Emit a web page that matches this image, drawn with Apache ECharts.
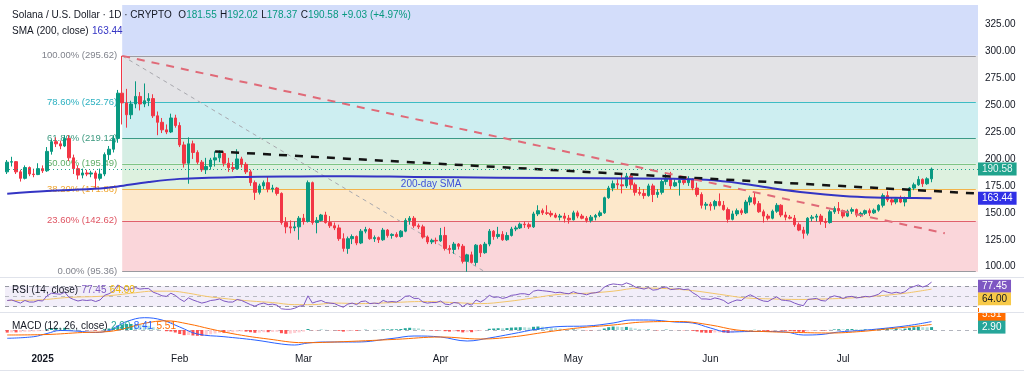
<!DOCTYPE html>
<html><head><meta charset="utf-8">
<script src="https://cdn.jsdelivr.net/npm/echarts@6/dist/echarts.min.js"></script>
<style>html,body{margin:0;padding:0;background:#fff}#c{width:1024px;height:380px}</style>
</head><body><div id="c"></div>
<script>
// ---------- DATA ----------
const firstDay = Date.UTC(2024, 11, 24);
const totalDays = 220; // Dec 24, 2024 .. Jul 31, 2025 (right margin included)
const dates = [];
for (let i = 0; i < totalDays; i++) dates.push(new Date(firstDay + i * 86400000).toISOString().slice(0, 10));

// daily candles [open, high, low, close]
const ohlc = [
 // Dec 24-31
 [188,199,186,197],[197,202,193,197.5],[197.5,198,186,188],[188,190,179,182],[182,194,181,192],[192,193,184,186],[186,191,183,185.5],[185.5,196,185,191],
 // Jan
 [191,194,187,189],[189,211,188,207],[207,218,204,216],[216,220,211,214],[214,217,209,212],[212,222,211,219],[219,222,198,201],[201,204,186,191],[191,194,181,185],[185,191,182,187],[187,190,184,186],[186,189,183,187],[187,189,172,182],[182,191,180,186],[186,206,184,204],[204,212,199,209],[209,222,206,219],[219,264,215,261],[261,295.62,232,252],[252,265,229,241],[241,254,237,251],[251,272,247,258],[258,262,245,251],[251,270,248,254],[254,261,249,256],[256,260,238,240],[240,244,222,234],[234,238,224,227],[227,232,223,225],[225,242,224,238],[238,241,229,231],
 // Feb
 [231,234,211,213],[213,216,192,196],[196,220,177,214],[214,217,200,206],[206,208,195,197],[197,199,188,190],[190,201,186,193],[193,201,190,199],[199,207,193,201],[201,208,197,205],[205,207,193,196],[196,201,188,192],[192,197,188,191],[191,209,190,200],[200,202,192,195],[195,197,186,188],[188,190,175,178],[178,180,162,169],[169,177,167,175],[175,180,172,178],[178,184,169,172],[172,176,169,173],[173,174,166,168],[168,169,139,141],[141,146,131,137],[137,143,131,136],[136,142,133,137],[137,147,125,145],
 // Mar
 [145,149,139,142],[142,180,141,178],[178,179,139,141],[141,146,131,143],[143,149,142,148],[148,151,140,141],[141,147,136,138],[138,141,134,136],[136,139,124,126],[126,131,114,117],[117,128,112,126],[126,130,121,128],[128,129,120,122],[122,135,121,133],[133,137,131,134.5],[134.5,136,125,126],[126,129,123,127],[127,128,122,125],[125,136,124,134],[134,135,127,129],[129,131,126,130],[130,132,127,128],[128,134,127,133],[133,145,132,143],[143,147,139,145],[145,147,136,138],[138,140,135,137],[137,139,126,127.5],[127.5,129,121,123],[123,126,121,124.5],[124.5,127,121,124],
 // Apr
 [124,136,123,129],[129,137,115,117],[117,120,112,116],[116,123,112,121],[121,122,116,119],[119,121,103,105],[105,112,95.36,111],[111,114,103,104],[104,121,101,120],[120,121,109,113],[113,123,112,121],[121,135,119,133],[133,134,125,128],[128,137,126,130],[130,133,124,125],[125,132,124,129],[129,137,128,135],[135,138,133,136],[136,141,135,139.5],[139.5,142,136,139],[139,141,135,137],[137,151,136,149],[149,157,147,152],[152,154,148,150],[150,157,148,149.5],[149.5,152,146,148],[148,150,145,146],[146,149,143,147],[147,150,141,145],[145,148,140,143.5],
 // May
 [143.5,152,143,150],[150,152,145,147],[147,149,144,145],[145,147,141,143],[143,148,141,146],[146,149,143,147.5],[147.5,152,146,150],[150,165,149,164],[164,175,163,173],[173,180,170,177],[177,181,172,176],[176,186,168,175],[175,187,173,184],[184,186,172,176],[176,178,166,169],[169,174,166,168],[168,172,163,166],[166,177,165,175],[175,177,160,167],[167,172,164,169],[169,181,167,179],[179,187,176,182],[182,188,172,175],[175,181,174,178],[178,181,166,180],[180,183,176,178],[178,184,175,181],[181,182,171,173],[173,178,165,167],[167,169,154,157],[157,160,153,158],
 // Jun
 [158,160,152,156.5],[156.5,162,153,160.5],[160.5,168,156,157],[157,161,152,153],[153,155,141,144],[144,152,143,149],[149,154,147,152],[152,154,148,150],[150,162,149,160],[160,166,157,164],[164,169,157,158.5],[158.5,161,150,151],[151,153,141,147],[147,149,143,145],[145,153,144,151.5],[151.5,159,150,157],[157,158,146,148],[148,151,143,146],[146,148,144,145],[145,148,137,139],[139,141,133,134],[134,137,126,131],[131,146,129,145],[145,148,142,146],[146,149,142,147],[147,149,139,142],[142,145,136,141],[141,153,140,151],[151,156,149,154],[154,160,149,152],
 // Jul 1-21
 [152,153,145,147],[147,153,146,151.5],[151.5,155,149,153],[153,154,146,148],[148,151,146,149.5],[149.5,153,148,152],[152,154,147,150],[150,154,149,152.5],[152.5,158,151,157],[157,168,155,166],[166,170,160,162],[162,164,157,160],[160,164,158,163],[163,166,159,160],[160,165,156,164],[164,174,163,173],[173,178,171,176],[176,184,175,181],[181,182,174,177],[177,183,176,181.55],[181.55,192.02,178.37,190.58]
];

const sma200 = [['2024-12-24',167.8],['2025-01-02',170.2],['2025-01-14',172.5],['2025-01-18',174.5],['2025-01-25',178.6],['2025-02-01',181.5],['2025-02-14',183.2],['2025-02-28',183.8],['2025-03-11',184],['2025-03-26',183.3],['2025-04-14',182.6],['2025-05-07',182],['2025-05-23',181.6],['2025-05-31',180.6],['2025-06-08',177.3],['2025-06-15',172.8],['2025-06-23',168.6],['2025-07-01',165.7],['2025-07-08',164.3],['2025-07-15',163.8],['2025-07-21',163.44]];

const fibStart = '2025-01-19';
const fibLevels = ['100.00%','78.60%','61.80%','50.00%','38.20%','23.60%','0.00%'];
const fibPrices = [295.62, 252.76, 219.12, 195.49, 171.86, 142.62, 95.36];
const fibDiagonal = [['2025-01-19',295.62],['2025-04-11',95.36]];
const redTrend = [['2025-01-19',295.62],['2025-07-24',131]];
const blackTrend = [['2025-02-09',207],['2025-07-31',168]];
const priceTicks = [100,125,150,175,200,225,250,275,300,325];

// RSI(14) daily
const rsi = [
 42,43,40,37,42,39,39,42,
 41,51,56,55,54,58,48,44,41,43,42,43,40,43,52,55,60,72,67,62,65,67,64,65,65,58,55,51,50,56,52,
 45,40,47,43,40,37,39,42,43,45,41,39,39,44,42,38,34,31,35,37,34,35,33,26,25,25,27,31,
 32,51,37,40,42,38,37,36,32,29,35,37,34,40,41,36,37,36,42,39,40,39,43,50,51,46,46,39,37,38,38,
 41,35,34,38,37,30,36,33,43,39,44,52,48,49,46,48,52,53,55,55,53,60,62,61,60,59,57,58,56,55,
 59,56,55,53,56,57,59,68,72,74,73,72,76,73,68,66,64,67,62,63,67,68,63,64,65,63,64,57,52,45,45,
 44,47,45,42,36,40,43,42,49,53,49,44,41,40,45,49,43,42,41,37,34,32,44,45,46,42,41,48,51,49,
 46,49,50,47,48,50,49,51,54,61,58,56,58,56,59,66,69,72,68,71,77.45
];
const rsiMa = [['2024-12-24',42],['2024-12-31',43],['2025-01-07',48],['2025-01-14',50],['2025-01-18',53],['2025-01-22',57],['2025-01-26',60],['2025-01-30',60],['2025-02-03',56],['2025-02-07',50],['2025-02-12',45],['2025-02-17',41],['2025-02-22',38],['2025-02-27',34],['2025-03-03',34],['2025-03-08',37],['2025-03-14',36],['2025-03-21',38],['2025-03-28',40],['2025-04-04',38],['2025-04-10',36],['2025-04-16',40],['2025-04-22',47],['2025-04-28',54],['2025-05-04',56],['2025-05-10',60],['2025-05-16',66],['2025-05-22',65],['2025-05-28',61],['2025-06-03',54],['2025-06-09',47],['2025-06-15',45],['2025-06-21',44],['2025-06-27',45],['2025-07-03',47],['2025-07-09',51],['2025-07-15',56],['2025-07-21',64]];

const macdLine = [['2024-12-24',-8.3],['2024-12-30',-6.7],['2025-01-02',-3.5],['2025-01-05',-0.5],['2025-01-09',-1.2],['2025-01-13',-2.5],['2025-01-16',-0.5],['2025-01-18',4],['2025-01-20',8.5],['2025-01-24',12.3],['2025-01-28',10],['2025-02-01',3],['2025-02-05',-4],['2025-02-11',-6.7],['2025-02-18',-10],['2025-02-24',-14],['2025-02-27',-15],['2025-03-02',-13],['2025-03-06',-12],['2025-03-13',-12],['2025-03-21',-8.5],['2025-03-26',-6],['2025-04-01',-7],['2025-04-07',-11],['2025-04-12',-8],['2025-04-17',-4],['2025-04-23',1],['2025-04-28',3.5],['2025-05-04',4],['2025-05-10',7],['2025-05-14',10],['2025-05-18',10],['2025-05-24',8],['2025-05-28',7],['2025-06-01',2],['2025-06-05',-2],['2025-06-10',-1.5],['2025-06-14',-1.5],['2025-06-18',-2],['2025-06-22',-5],['2025-06-26',-4.5],['2025-06-30',-2],['2025-07-05',-0.5],['2025-07-10',1.5],['2025-07-15',4],['2025-07-18',6],['2025-07-21',8.41]];
const signalLine = [['2024-12-24',-5],['2025-01-02',-4.5],['2025-01-10',-2.5],['2025-01-16',-1.5],['2025-01-20',2],['2025-01-24',6.7],['2025-01-29',9.2],['2025-02-03',6],['2025-02-08',1],['2025-02-14',-4.5],['2025-02-21',-9],['2025-03-01',-12.7],['2025-03-08',-12],['2025-03-22',-9.3],['2025-04-01',-7],['2025-04-10',-9],['2025-04-17',-7],['2025-04-25',-2],['2025-05-02',2],['2025-05-10',5],['2025-05-17',8],['2025-05-25',8.5],['2025-06-01',5],['2025-06-07',0],['2025-06-14',-1.7],['2025-06-21',-2.5],['2025-06-28',-3],['2025-07-05',-1.5],['2025-07-12',1.5],['2025-07-18',4],['2025-07-21',5.51]];
const hist = [
 -2.6,-2.4,-2.4,-2.2,-1.8,-1.7,-1.5,-1.2,
 -0.5,0.8,1.8,2.2,2.0,2.2,1.2,0.5,0.2,0.0,-0.2,-0.3,-0.6,-0.5,0.8,1.5,2.5,4.5,5.5,6.0,6.0,5.8,5.2,4.8,4.2,2.8,1.2,0.0,-1.2,-1.5,-2.5,
 -4.0,-5.2,-5.0,-5.5,-5.8,-5.8,-5.0,-4.2,-3.5,-2.8,-2.8,-2.6,-2.3,-1.6,-1.4,-1.6,-2.2,-2.8,-2.6,-2.2,-2.2,-1.9,-1.8,-3.2,-3.8,-3.6,-3.0,-2.4,
 -1.6,1.0,-0.2,-0.2,0.3,0.2,-0.1,-0.2,-0.8,-1.6,-1.2,-0.8,-0.8,-0.2,0.3,0.0,0.1,0.1,0.6,0.6,0.7,0.7,1.0,1.8,2.2,1.9,1.6,0.7,-0.2,-0.5,-0.7,
 -0.4,-1.2,-1.6,-1.4,-1.4,-2.4,-2.2,-2.2,-1.2,-0.8,0.0,1.2,1.5,1.8,1.7,1.9,2.4,2.6,2.8,2.7,2.4,3.2,3.5,3.3,2.9,2.4,1.8,1.4,1.0,0.5,
 0.6,0.4,0.1,-0.3,-0.3,-0.2,0.1,1.5,2.8,3.5,3.4,3.0,3.1,2.4,1.5,0.9,0.4,0.5,-0.1,-0.4,0.0,0.4,0.0,-0.1,-0.1,-0.3,-0.2,-0.8,-1.5,-2.5,-2.8,
 -2.9,-2.5,-2.4,-2.5,-3.0,-2.6,-2.0,-1.6,-0.8,0.0,0.2,-0.2,-0.8,-1.1,-0.8,-0.3,-0.6,-0.8,-0.9,-1.3,-1.8,-2.2,-1.4,-0.9,-0.5,-0.5,-0.5,0.1,0.6,0.8,
 0.6,0.8,1.0,0.7,0.6,0.7,0.5,0.6,0.9,1.8,1.8,1.5,1.5,1.2,1.4,2.2,2.8,3.2,2.8,2.7,2.9
];

// ---------- DERIVED DISPLAY VALUES ----------
const last = ohlc[ohlc.length - 1];
const prevClose = ohlc[ohlc.length - 2][3];
const chg = last[3] - prevClose;
const chgPct = chg / prevClose * 100;
const lastSma = sma200[sma200.length - 1][1];
const lastRsi = rsi[rsi.length - 1];
const lastRsiMa = rsiMa[rsiMa.length - 1][1];
const lastMacd = macdLine[macdLine.length - 1][1];
const lastSignal = signalLine[signalLine.length - 1][1];
const lastHist = hist[hist.length - 1];
const lastDate = dates[dates.length - 1];

const FONT = 'Liberation Sans, Arial, sans-serif';
const UP = '#089981', DOWN = '#f23645';
const monthNames = ['Jan','Feb','Mar','Apr','May','Jun','Jul','Aug','Sep','Oct','Nov','Dec'];

const fibBandColors = ['#e3e3e6','#cdeef1','#d5eee4','#ddf1df','#fde8cb','#fad6da'];
const fibLineColors = ['#9a9aa0','#3dbcc4','#3b9a86','#7fc486','#f2b34a','#e0606c','#9a9aa0'];
const fibTextColors = ['#80838c','#2bb0c0','#3d9a80','#5fae68','#f0a630','#df5563','#80838c'];

const bandData = [[{xAxis: fibStart, yAxis: 342.8, itemStyle: {color: '#d3ddfa'}}, {yAxis: fibPrices[0]}]];
for (let i = 0; i < fibPrices.length - 1; i++) {
  bandData.push([{xAxis: fibStart, yAxis: fibPrices[i], itemStyle: {color: fibBandColors[i]}}, {yAxis: fibPrices[i + 1]}]);
}

const fibLineData = fibPrices.map((p, i) => [
  {coord: [fibStart, p], lineStyle: {color: fibLineColors[i], width: 1, type: 'solid'},
   label: {show: true, position: 'start', distance: 5, formatter: fibLevels[i] + ' (' + p.toFixed(2) + ')',
           color: fibTextColors[i], fontSize: 9.5, fontFamily: FONT}},
  {coord: [lastDate, p]}
]);

const histData = hist.map((v, i) => {
  const prev = i > 0 ? hist[i - 1] : v;
  let c;
  if (v >= 0) c = v >= prev ? '#26a69a' : '#b2dfdb';
  else c = v <= prev ? '#ff5252' : '#ffcdd2';
  return {value: v, itemStyle: {color: c}};
});

function boxLine(value, bg, fg, offsetY) {
  return {yAxis: value, lineStyle: {color: 'rgba(0,0,0,0)', width: 1, type: 'solid'},
    label: {show: true, position: 'end', distance: 0, formatter: value.toFixed(2), backgroundColor: bg, color: fg,
            padding: [2, 4, 1, 4], fontSize: 10, fontFamily: FONT, offset: [0, offsetY || 0]}};
}

const chart = echarts.init(document.getElementById('c'), null, {renderer: 'canvas'});
const xAxes = [0, 1, 2].map(g => ({
  type: 'category', gridIndex: g, data: dates, boundaryGap: true,
  axisLine: {show: false}, axisTick: {show: false}, splitLine: {show: false},
  axisPointer: {show: false},
  axisLabel: g === 2 ? {
    show: true, margin: 6, color: '#131722', fontSize: 10, fontFamily: FONT,
    interval: (idx, v) => v.slice(8) === '01',
    formatter: v => { const m = +v.slice(5, 7); return m === 1 ? '{y|' + v.slice(0, 4) + '}' : monthNames[m - 1]; },
    rich: {y: {fontWeight: 'bold', fontSize: 10, color: '#131722', fontFamily: FONT}}
  } : {show: false}
}));

const option = {
  animation: false,
  backgroundColor: '#ffffff',
  textStyle: {fontFamily: FONT},
  grid: [
    {left: 5, right: 46, top: 5, height: 271},
    {left: 5, right: 46, top: 278, height: 34},
    {left: 5, right: 46, top: 313, height: 35}
  ],
  xAxis: xAxes,
  yAxis: [
    {type: 'value', gridIndex: 0, position: 'right', min: 91.4, max: 342.8, scale: true,
     splitLine: {show: false}, axisLine: {show: false}, axisTick: {show: false},
     axisLabel: {customValues: priceTicks, formatter: v => v.toFixed(2), color: '#131722', fontSize: 10, margin: 7, fontFamily: FONT}},
    {type: 'value', gridIndex: 1, position: 'right', min: 19.76, max: 85.46,
     splitLine: {show: false}, axisLine: {show: false}, axisTick: {show: false}, axisLabel: {show: false}},
    {type: 'value', gridIndex: 2, position: 'right', min: -18, max: 17,
     splitLine: {show: false}, axisLine: {show: false}, axisTick: {show: false}, axisLabel: {show: false}}
  ],
  series: [
    // Fibonacci retracement: bands, level lines, diagonal
    {type: 'line', name: 'fib', xAxisIndex: 0, yAxisIndex: 0, z: 1, data: fibDiagonal, symbol: 'none', silent: true,
     lineStyle: {color: '#a8a8ae', width: 1, type: [4, 4]},
     markArea: {silent: true, z: 0, data: bandData},
     markLine: {silent: true, z: 1, symbol: ['none', 'none'], data: fibLineData}},
    // candles
    {type: 'candlestick', xAxisIndex: 0, yAxisIndex: 0, z: 3, barWidth: 3, silent: true,
     data: ohlc.map(r => [r[0], r[3], r[2], r[1]]),
     itemStyle: {color: UP, color0: DOWN, borderColor: UP, borderColor0: DOWN, borderWidth: 1}},
    // SMA 200
    {type: 'line', name: 'sma', xAxisIndex: 0, yAxisIndex: 0, z: 4, data: sma200, smooth: 0.35, symbol: 'none', silent: true,
     lineStyle: {color: '#3434c4', width: 2},
     markPoint: {silent: true, symbol: 'circle', symbolSize: 0, data: [{coord: ['2025-03-23', 176.9],
       label: {show: true, formatter: '200-day SMA', position: [0, 0], align: 'left', verticalAlign: 'middle', color: '#3f51d9', fontSize: 10, fontFamily: FONT}}]}},
    // trend lines
    {type: 'line', xAxisIndex: 0, yAxisIndex: 0, z: 6, data: redTrend, symbol: 'none', silent: true,
     lineStyle: {color: '#e06a78', width: 2, type: [8, 7]}},
    {type: 'line', xAxisIndex: 0, yAxisIndex: 0, z: 6, data: blackTrend, symbol: 'none', silent: true,
     lineStyle: {color: '#131313', width: 2.5, type: [8, 8]}},
    // price line + boxes
    {type: 'line', xAxisIndex: 0, yAxisIndex: 0, z: 7, data: [], clip: false, silent: true,
     markLine: {silent: true, z: 7, symbol: ['none', 'none'], data: [
       Object.assign(boxLine(last[3], UP, '#ffffff'), {lineStyle: {color: UP, type: [1, 3], width: 1, opacity: 0.9}}),
       boxLine(lastSma, '#3030e6', '#ffffff')
     ]}},
    // RSI
    {type: 'line', xAxisIndex: 1, yAxisIndex: 1, z: 3, data: rsi, symbol: 'none', silent: true, clip: false,
     lineStyle: {color: '#7e57c2', width: 1},
     markArea: {silent: true, z: 0, data: [[{yAxis: 70, itemStyle: {color: 'rgba(126,87,194,0.1)'}}, {yAxis: 30}]]},
     markLine: {silent: true, z: 1, symbol: ['none', 'none'], label: {show: false},
       lineStyle: {color: '#9598a1', type: [4, 4], width: 1},
       data: [{yAxis: 70}, {yAxis: 50, lineStyle: {color: '#b8bac2', type: [4, 4]}}, {yAxis: 30}]}},
    {type: 'line', xAxisIndex: 1, yAxisIndex: 1, z: 2, data: rsiMa, smooth: 0.4, symbol: 'none', silent: true,
     lineStyle: {color: '#f3c66b', width: 1}},
    {type: 'line', xAxisIndex: 1, yAxisIndex: 1, z: 8, data: [], clip: false, silent: true,
     markLine: {silent: true, z: 8, symbol: ['none', 'none'],
       data: [boxLine(lastRsi, '#7e57c2', '#ffffff', 4), boxLine(lastRsiMa, '#f7c948', '#131722', 10)]}},
    // MACD
    {type: 'bar', xAxisIndex: 2, yAxisIndex: 2, z: 2, data: histData, barWidth: 3, silent: true,
     markLine: {silent: true, z: 1, symbol: ['none', 'none'], label: {show: false},
       lineStyle: {color: '#b2b5be', type: [4, 4], width: 1},
       data: [{yAxis: 0}]}},
    {type: 'line', xAxisIndex: 2, yAxisIndex: 2, z: 3, data: macdLine, smooth: 0.4, symbol: 'none', silent: true,
     lineStyle: {color: '#2962ff', width: 1}},
    {type: 'line', xAxisIndex: 2, yAxisIndex: 2, z: 3, data: signalLine, smooth: 0.4, symbol: 'none', silent: true,
     lineStyle: {color: '#ff6d00', width: 1}},
    {type: 'line', xAxisIndex: 2, yAxisIndex: 2, z: 8, data: [], clip: false, silent: true,
     markLine: {silent: true, z: 8, symbol: ['none', 'none'],
       data: [boxLine(lastSignal, '#ff6d00', '#ffffff', -10), boxLine(lastHist, '#26a69a', '#ffffff', 0)]}}
  ],
  graphic: [
    {type: 'rect', z: 90, shape: {x: 979, y: 305.5, width: 45, height: 7}, style: {fill: '#ffffff'}},
    {type: 'line', z: 91, shape: {x1: 0, y1: 277.5, x2: 1024, y2: 277.5}, style: {stroke: '#e0e3eb', lineWidth: 1}},
    {type: 'line', z: 91, shape: {x1: 0, y1: 312.5, x2: 1024, y2: 312.5}, style: {stroke: '#e0e3eb', lineWidth: 1}},
    {type: 'line', z: 91, shape: {x1: 0, y1: 370.5, x2: 1024, y2: 370.5}, style: {stroke: '#e0e3eb', lineWidth: 1}},
    {type: 'text', z: 95, left: 12, top: 9, style: {
      text: '{t|Solana / U.S. Dollar · 1D · CRYPTO}  {t|O}{v|' + last[0].toFixed(2) + '} {t|H}{v|' + last[1].toFixed(2) +
            '} {t|L}{v|' + last[2].toFixed(2) + '} {t|C}{v|' + last[3].toFixed(2) + '} {v|' + (chg >= 0 ? '+' : '') + chg.toFixed(2) +
            ' (' + (chg >= 0 ? '+' : '') + chgPct.toFixed(2) + '%)}',
      rich: {t: {fill: '#131722', fontSize: 10, fontFamily: FONT}, v: {fill: UP, fontSize: 10, fontFamily: FONT}}}},
    {type: 'text', z: 95, left: 12, top: 25, style: {
      text: '{t|SMA (200, close)} {v|' + lastSma.toFixed(2) + '}',
      rich: {t: {fill: '#131722', fontSize: 10, fontFamily: FONT}, v: {fill: '#3434c4', fontSize: 10, fontFamily: FONT}}}},
    {type: 'text', z: 95, left: 12, top: 284, style: {
      text: '{t|RSI (14, close)} {p|' + lastRsi.toFixed(2) + '} {y|' + lastRsiMa.toFixed(2) + '}',
      rich: {t: {fill: '#131722', fontSize: 10, fontFamily: FONT}, p: {fill: '#7e57c2', fontSize: 10, fontFamily: FONT},
             y: {fill: '#f0b90b', fontSize: 10, fontFamily: FONT}}}},
    {type: 'text', z: 95, left: 12, top: 320, style: {
      text: '{t|MACD (12, 26, close)} {h|' + lastHist.toFixed(2) + '} {b|' + lastMacd.toFixed(2) + '} {o|' + lastSignal.toFixed(2) + '}',
      rich: {t: {fill: '#131722', fontSize: 10, fontFamily: FONT}, h: {fill: '#26a69a', fontSize: 10, fontFamily: FONT},
             b: {fill: '#2962ff', fontSize: 10, fontFamily: FONT}, o: {fill: '#ff6d00', fontSize: 10, fontFamily: FONT}}}}
  ]
};
chart.setOption(option);
</script>
</body></html>
